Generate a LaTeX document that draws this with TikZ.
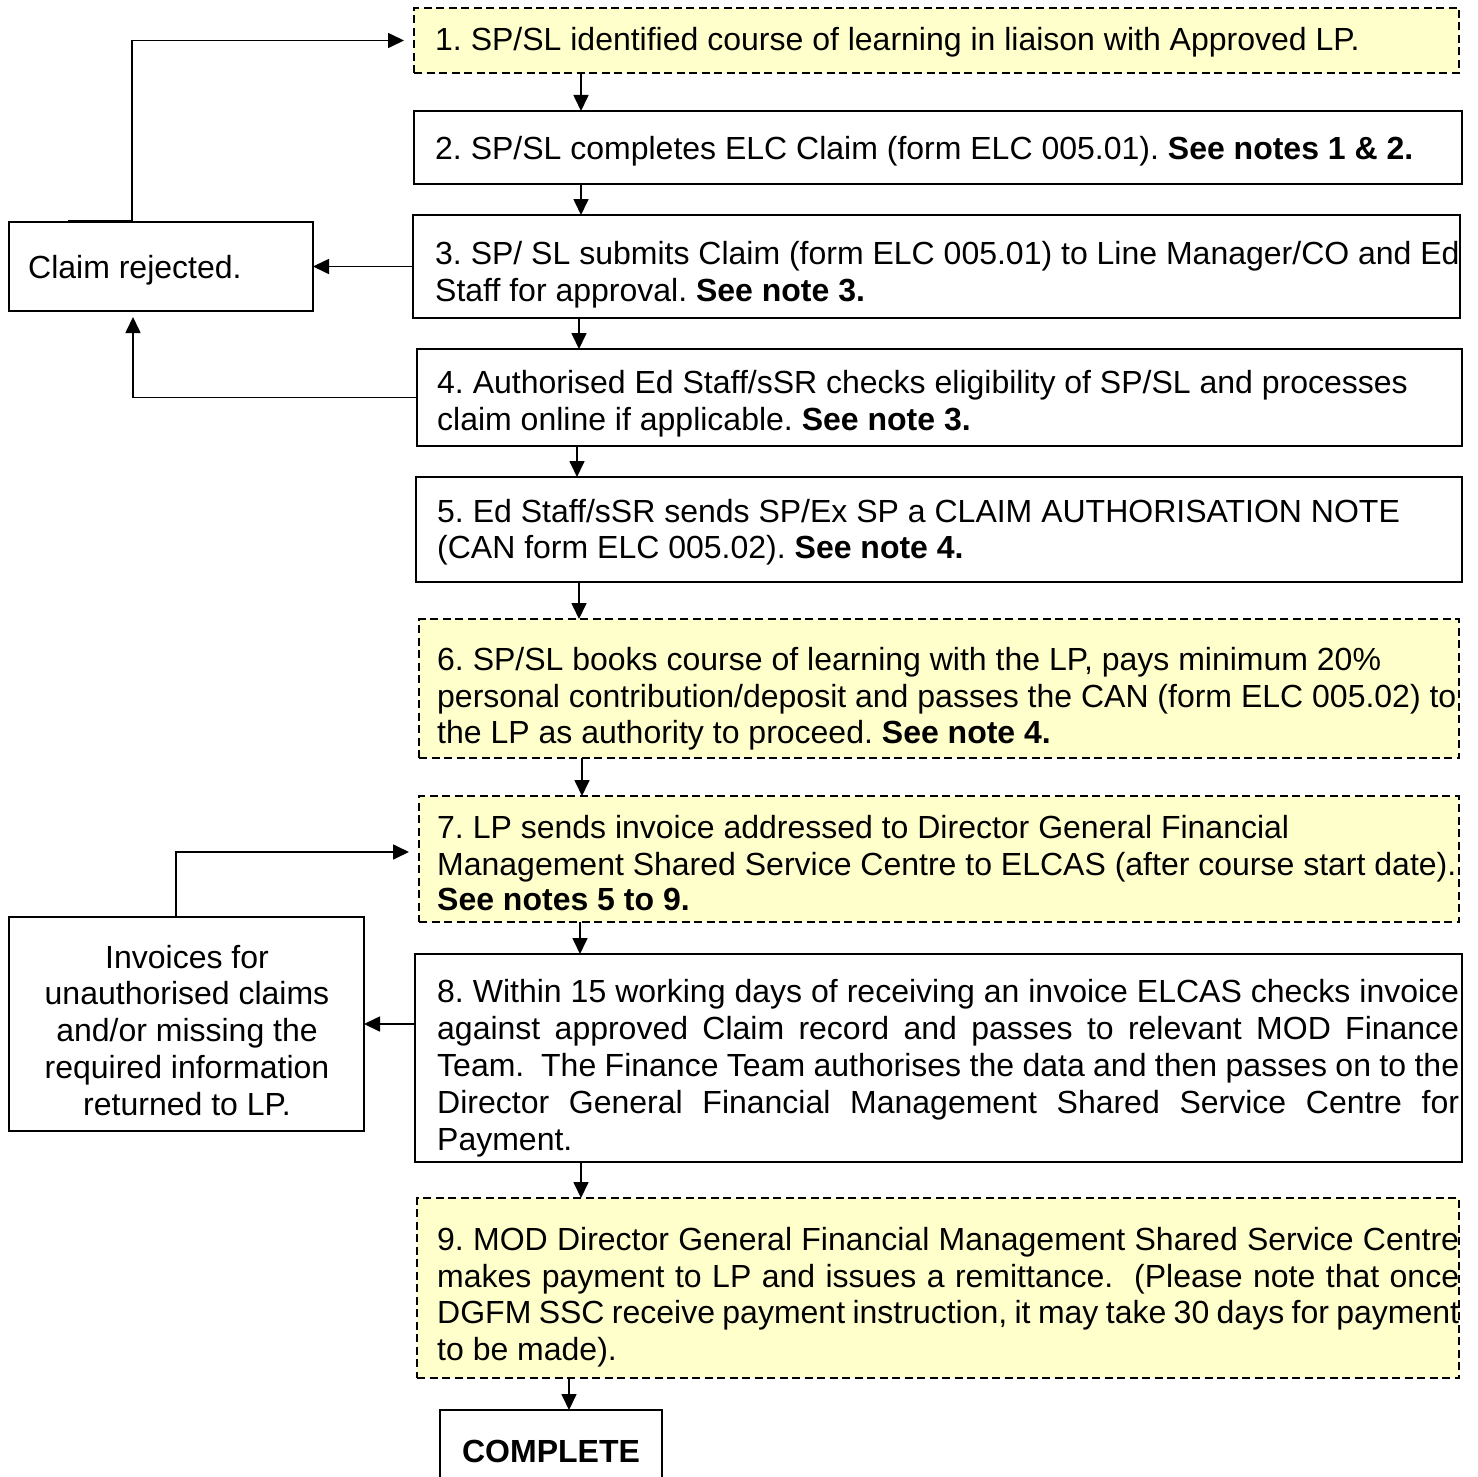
\documentclass[tikz,border=0pt]{standalone}
\usepackage{fontspec}
\setmainfont{Liberation Sans}
\usetikzlibrary{arrows.meta}
\definecolor{noteyellow}{HTML}{FFFFCC}
\newcommand\fs{\fontsize{32.0}{36.5}\selectfont\frenchspacing}
\newcommand\jline[1]{\makebox[1022pt][s]{#1}}
\begin{document}
\frenchspacing
\begin{tikzpicture}[x=1pt,y=-1pt,
  box/.style={draw=black, line width=2pt, fill=white, inner sep=0pt, outer sep=0pt, anchor=north west},
  note/.style={box, fill=noteyellow, dash pattern=on 8pt off 4.5pt},
  txt/.style={anchor=base west, inner sep=0pt, font=\fs},
  ctxt/.style={anchor=base, inner sep=0pt, font=\fs},
  conn/.style={line width=1.7pt, -{Triangle[length=16pt,width=15pt]}}]
\useasboundingbox (0,0) rectangle (1478,1477);
\clip (0,0) rectangle (1478,1477);
\fill[white] (0,0) rectangle (1478,1477);
% boxes
\node[note, minimum width=1045pt, minimum height=65pt] (b1) at (414,8) {};
\node[box, minimum width=1048pt, minimum height=73pt] (b2) at (414,111) {};
\node[box, minimum width=1047pt, minimum height=103pt] (b3) at (413,215) {};
\node[box, minimum width=1045pt, minimum height=97pt] (b4) at (417,349) {};
\node[box, minimum width=1046pt, minimum height=105pt] (b5) at (416,477) {};
\node[note, minimum width=1040pt, minimum height=139pt] (b6) at (419,619) {};
\node[note, minimum width=1040pt, minimum height=126pt] (b7) at (419,796) {};
\node[box, minimum width=1047pt, minimum height=208pt] (b8) at (415,954) {};
\node[note, minimum width=1042pt, minimum height=180pt] (b9) at (417,1198) {};
\node[box, minimum width=222pt, minimum height=100pt] (done) at (440,1410) {};
\node[box, minimum width=304pt, minimum height=89pt] (rej) at (9,222) {};
\node[box, minimum width=355pt, minimum height=214pt] (inv) at (9,917) {};
% texts
\node[txt] (t1) at (435,51) {1. SP/SL identified course of learning in liaison with Approved LP.};
\node[txt] (t2) at (435,160) {2. SP/SL completes ELC Claim (form ELC 005.01). \textbf{See notes 1 \& 2.}};
\node[txt] (t3a) at (435,264) {3. SP/ SL submits Claim (form ELC 005.01) to Line Manager/CO and Ed};
\node[txt] (t3b) at (435,301) {Staff for approval. \textbf{See note 3.}};
\node[txt] (t4a) at (437,393) {4. Authorised Ed Staff/sSR checks eligibility of SP/SL and processes};
\node[txt] (t4b) at (437,430) {claim online if applicable. \textbf{See note 3.}};
\node[txt] (t5a) at (437,522) {5. Ed Staff/sSR sends SP/Ex SP a CLAIM AUTHORISATION NOTE};
\node[txt] (t5b) at (437,558) {(CAN form ELC 005.02). \textbf{See note 4.}};
\node[txt] (t6a) at (437,670) {6. SP/SL books course of learning with the LP, pays minimum 20\%};
\node[txt] (t6b) at (437,707) {personal contribution/deposit and passes the CAN (form ELC 005.02) to};
\node[txt] (t6c) at (437,743) {the LP as authority to proceed. \textbf{See note 4.}};
\node[txt] (t7a) at (437,838) {7. LP sends invoice addressed to Director General Financial};
\node[txt] (t7b) at (437,875) {Management Shared Service Centre to ELCAS (after course start date).};
\node[txt] (t7c) at (437,910) {\textbf{See notes 5 to 9.}};
\node[txt] (t8a) at (437,1002) {\jline{8. Within 15 working days of receiving an invoice ELCAS checks invoice}};
\node[txt] (t8b) at (437,1039) {\jline{against approved Claim record and passes to relevant MOD Finance}};
\node[txt] (t8c) at (437,1076) {\jline{Team.\ \ The Finance Team authorises the data and then passes on to the}};
\node[txt] (t8d) at (437,1113) {\jline{Director General Financial Management Shared Service Centre for}};
\node[txt] (t8e) at (437,1150) {Payment.};
\node[txt] (t9a) at (437,1250) {\jline{9. MOD Director General Financial Management Shared Service Centre}};
\node[txt] (t9b) at (437,1287) {\jline{makes payment to LP and issues a remittance.\ \ (Please note that once}};
\node[txt] (t9c) at (437,1323) {\jline{DGFM SSC receive payment instruction, it may take 30 days for payment}};
\node[txt] (t9d) at (437,1360) {to be made).};
\node[ctxt] (tdone) at (551,1462) {\textbf{COMPLETE}};
\node[txt] (trej) at (28,278) {Claim rejected.};
\node[ctxt] (tinv1) at (187,968) {Invoices for};
\node[ctxt] (tinv2) at (187,1004) {unauthorised claims};
\node[ctxt] (tinv3) at (187,1041) {and/or missing the};
\node[ctxt] (tinv4) at (187,1078) {required information};
\node[ctxt] (tinv5) at (187,1115) {returned to LP.};
% arrow columns
\coordinate (a12) at (581,0);
\coordinate (a23) at (581,0);
\coordinate (a34) at (579,0);
\coordinate (a45) at (577,0);
\coordinate (a56) at (579,0);
\coordinate (a67) at (582,0);
\coordinate (a78) at (580,0);
\coordinate (a89) at (581,0);
\coordinate (a9d) at (569,0);
\draw[conn] (a12 |- b1.south) -- (a12 |- b2.north);
\draw[conn] (a23 |- b2.south) -- (a23 |- b3.north);
\draw[conn] (a34 |- b3.south) -- (a34 |- b4.north);
\draw[conn] (a45 |- b4.south) -- (a45 |- b5.north);
\draw[conn] (a56 |- b5.south) -- (a56 |- b6.north);
\draw[conn] (a67 |- b6.south) -- (a67 |- b7.north);
\draw[conn] (a78 |- b7.south) -- (a78 |- b8.north);
\draw[conn] (a89 |- b8.south) -- (a89 |- b9.north);
\draw[conn] (a9d |- b9.south) -- (a9d |- done.north);
% side connectors
\coordinate (r0) at (68,221);
\coordinate (r1) at (132,221);
\draw[conn, shorten >=10pt] (r0) -- (r1) |- (b1.west);
\draw[conn] (b3.west) -- (rej.east);
\coordinate (k4) at (133,397.5);
\draw[conn, shorten >=6pt] (b4.west) -- (k4) -- (k4 |- rej.south);
\draw[conn] (b8.west |- inv.east) -- (inv.east);
\coordinate (k7) at (176,852);
\draw[conn, shorten >=10pt] (inv.north -| k7) -- (k7) -- (k7 -| b7.west);
\end{tikzpicture}
\end{document}
